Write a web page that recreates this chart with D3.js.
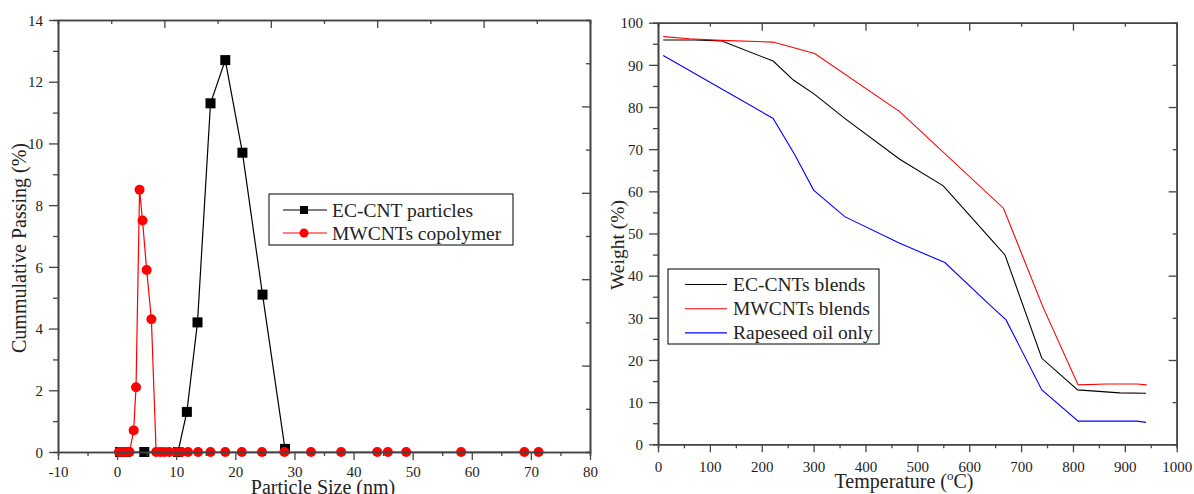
<!DOCTYPE html>
<html>
<head>
<meta charset="utf-8">
<script src="https://cdn.jsdelivr.net/npm/d3@7"></script>
<style>
  body { margin: 0; background: #fff; }
  svg { display: block; font-family: "Liberation Serif", "Times New Roman", serif; }
</style>
</head>
<body>
<svg id="vis" width="1194" height="494"></svg>
<script>
// left panel: particle size distribution
var ecSize = [0.5, 1.5, 4.6, 10.3, 11.8, 13.6, 15.8, 18.3, 21.2, 24.6, 28.4];
var ecPass = [0, 0, 0, 0, 1.3, 4.2, 11.3, 12.7, 9.7, 5.1, 0.1];
var mwSize = [0.3, 0.9, 1.5, 2.1, 2.8, 3.2, 3.8, 4.3, 5.0, 5.8, 6.6, 7.3, 8.0, 8.8, 10.0, 10.9, 12.0, 13.7,
              15.8, 18.3, 21.1, 24.5, 28.3, 32.8, 37.9, 44.0, 45.8, 48.9, 58.2, 68.9, 71.3];
var mwPass = [0, 0, 0, 0, 0.7, 2.1, 8.5, 7.5, 5.9, 4.3, 0, 0, 0, 0, 0, 0, 0, 0,
              0, 0, 0, 0, 0, 0, 0, 0, 0, 0, 0, 0, 0];
var sizeTicks = [-10, 0, 10, 20, 30, 40, 50, 60, 70, 80];
var passTicks = [0, 2, 4, 6, 8, 10, 12, 14];

// right panel: TGA curves
var ecTemp = [10, 70, 122, 222, 261, 302, 360, 466, 550, 643, 669, 740, 809, 890, 941];
var ecWeight = [95.9, 95.9, 95.7, 90.9, 86.4, 83.0, 77.3, 67.6, 61.3, 48.5, 44.9, 20.4, 12.9, 12.2, 12.1];
var mwTemp = [10, 60, 122, 222, 302, 466, 666, 742, 810, 865, 923, 942];
var mwWeight = [96.7, 96.2, 95.8, 95.4, 92.7, 78.9, 56.0, 32.6, 14.1, 14.3, 14.3, 14.1];
var rsTemp = [10, 222, 264, 300, 360, 466, 553, 640, 671, 740, 810, 923, 941];
var rsWeight = [92.2, 77.3, 68.6, 60.3, 54.0, 47.7, 43.1, 33.0, 29.5, 12.9, 5.5, 5.5, 5.2];
var tempTicks = [0, 100, 200, 300, 400, 500, 600, 700, 800, 900, 1000];
var weightTicks = [0, 10, 20, 30, 40, 50, 60, 70, 80, 90, 100];

var svg = d3.select('#vis');
svg.append('rect').attr('width', 1194).attr('height', 494).attr('fill', '#fff');

var serif = '"Liberation Serif", "Times New Roman", serif';
var frameColor = '#444';
var labelColor = '#222';

function zip(xs, ys) {
  return xs.map(function (d, i) { return { x: d, y: ys[i] }; });
}

function plain(d) { return String(d); }

function styleAxis(sel) {
  sel.attr('font-family', serif).attr('font-size', 15);
  sel.selectAll('path').attr('stroke', frameColor).attr('stroke-width', 1.6);
  sel.selectAll('line').attr('stroke', frameColor).attr('stroke-width', 1.3);
  sel.selectAll('text')
    .style('font-family', serif)
    .style('font-size', '15px')
    .style('fill', labelColor);
  return sel;
}

// draws the four sided Origin style frame
function drawFrame(g, x, y, xMinor, yMinor, labelDrop) {
  var x0 = x.range()[0], x1 = x.range()[1];
  var y0 = y.range()[0], y1 = y.range()[1];
  var xTop = d3.scaleLinear().domain([0, 10]).range(x.range());
  var yRight = d3.scaleLinear().domain([0, 10]).range(y.range());

  // minor ticks
  styleAxis(g.append('g').attr('transform', 'translate(0,' + y0 + ')')
    .call(d3.axisBottom(x).tickValues(xMinor).tickSize(4).tickFormat('')));
  styleAxis(g.append('g').attr('transform', 'translate(' + x0 + ',0)')
    .call(d3.axisLeft(y).tickValues(yMinor).tickSize(5).tickFormat('')));
  styleAxis(g.append('g').attr('transform', 'translate(0,' + y1 + ')')
    .call(d3.axisTop(xTop).tickValues([1, 3, 5, 7, 9]).tickSize(-4).tickFormat('')));
  styleAxis(g.append('g').attr('transform', 'translate(' + x1 + ',0)')
    .call(d3.axisRight(yRight).tickValues([1, 3, 5, 7, 9]).tickSize(-4).tickFormat('')));

  // major ticks + labels
  var bottom = styleAxis(g.append('g').attr('transform', 'translate(0,' + y0 + ')')
    .call(d3.axisBottom(x).tickValues(x.ticksList).tickSize(8).tickSizeOuter(0).tickFormat(plain)));
  bottom.selectAll('text').attr('y', labelDrop).attr('dy', 0);

  var left = styleAxis(g.append('g').attr('transform', 'translate(' + x0 + ',0)')
    .call(d3.axisLeft(y).tickValues(y.ticksList).tickSize(9).tickSizeOuter(0).tickFormat(plain)));
  left.selectAll('text').attr('x', -15).attr('dy', '0.35em');

  styleAxis(g.append('g').attr('transform', 'translate(0,' + y1 + ')')
    .call(d3.axisTop(xTop).tickValues([2, 4, 6, 8]).tickSize(-8).tickSizeOuter(0).tickFormat('')));
  styleAxis(g.append('g').attr('transform', 'translate(' + x1 + ',0)')
    .call(d3.axisRight(yRight).tickValues([2, 4, 6, 8]).tickSize(-8).tickSizeOuter(0).tickFormat('')));
}

// ---------- left panel ----------
var xL = d3.scaleLinear().domain([-10, 80]).range([58, 590]);
var yL = d3.scaleLinear().domain([0, 14]).range([452, 20]);
xL.ticksList = sizeTicks;
yL.ticksList = passTicks;

var gL = svg.append('g');
var lineL = d3.line().x(function (d) { return xL(d.x); }).y(function (d) { return yL(d.y); });

var ecData = zip(ecSize, ecPass);
var mwData = zip(mwSize, mwPass);

gL.append('path').datum(ecData).attr('d', lineL)
  .attr('fill', 'none').attr('stroke', '#000').attr('stroke-width', 1.2);
gL.selectAll('.sq').data(ecData).enter().append('rect')
  .attr('x', function (d) { return xL(d.x) - 5; })
  .attr('y', function (d) { return yL(d.y) - 5; })
  .attr('width', 10).attr('height', 10).attr('fill', '#000');

gL.append('path').datum(mwData).attr('d', lineL)
  .attr('fill', 'none').attr('stroke', '#f00').attr('stroke-width', 1.2);
gL.selectAll('.dot').data(mwData).enter().append('circle')
  .attr('cx', function (d) { return xL(d.x); })
  .attr('cy', function (d) { return yL(d.y); })
  .attr('r', 5).attr('fill', '#f00');

drawFrame(gL, xL, yL, d3.range(-5, 80, 10), d3.range(1, 14, 2), 25);

gL.append('text')
  .attr('x', 323).attr('y', 494)
  .attr('text-anchor', 'middle').style('font-size', '20px').attr('fill', labelColor)
  .text('Particle Size (nm)');
gL.append('text')
  .attr('transform', 'translate(26,248) rotate(-90)')
  .attr('text-anchor', 'middle').style('font-size', '20px').attr('fill', labelColor)
  .text('Cummulative Passing (%)');

// legend
var legL = gL.append('g');
legL.append('rect').attr('x', 269).attr('y', 194).attr('width', 244).attr('height', 51)
  .attr('fill', '#fff').attr('stroke', '#000').attr('stroke-width', 1);
var legItemsL = [
  { name: 'EC-CNT particles', color: '#000', shape: 'square' },
  { name: 'MWCNTs copolymer', color: '#f00', shape: 'circle' }
];
legItemsL.forEach(function (d, i) {
  var cy = 210 + i * 23;
  legL.append('line').attr('x1', 283).attr('x2', 327).attr('y1', cy).attr('y2', cy)
    .attr('stroke', d.color).attr('stroke-width', 1.2);
  if (d.shape === 'square') {
    legL.append('rect').attr('x', 300).attr('y', cy - 4).attr('width', 8).attr('height', 8).attr('fill', d.color);
  } else {
    legL.append('circle').attr('cx', 304).attr('cy', cy).attr('r', 4.5).attr('fill', d.color);
  }
  legL.append('text').attr('x', 332).attr('y', cy + 6.5)
    .style('font-size', '19.5px').attr('fill', labelColor).text(d.name);
});

// ---------- right panel ----------
var xR = d3.scaleLinear().domain([0, 1000]).range([658, 1176.7]);
var yR = d3.scaleLinear().domain([0, 100]).range([444.3, 22.7]);
xR.ticksList = tempTicks;
yR.ticksList = weightTicks;

var gR = svg.append('g');
var lineR = d3.line().x(function (d) { return xR(d.x); }).y(function (d) { return yR(d.y); });

var seriesR = [
  { name: 'EC-CNTs blends', color: '#000', data: zip(ecTemp, ecWeight) },
  { name: 'MWCNTs blends', color: '#f00', data: zip(mwTemp, mwWeight) },
  { name: 'Rapeseed oil only', color: '#00f', data: zip(rsTemp, rsWeight) }
];

seriesR.forEach(function (s) {
  gR.append('path').datum(s.data).attr('d', lineR)
    .attr('fill', 'none').attr('stroke', s.color).attr('stroke-width', 1.1);
});

drawFrame(gR, xR, yR, d3.range(50, 1000, 100), d3.range(5, 100, 10), 27.5);

var tTitle = gR.append('text')
  .attr('x', 904).attr('y', 488)
  .attr('text-anchor', 'middle').style('font-size', '20px').attr('fill', labelColor);
tTitle.append('tspan').text('Temperature (');
tTitle.append('tspan').style('font-size', '13px').attr('dy', -8).text('o');
tTitle.append('tspan').attr('dy', 8).text('C)');

gR.append('text')
  .attr('transform', 'translate(624,245) rotate(-90)')
  .attr('text-anchor', 'middle').style('font-size', '19.5px').attr('fill', labelColor)
  .text('Weight (%)');

var legR = gR.append('g');
legR.append('rect').attr('x', 668).attr('y', 269).attr('width', 211).attr('height', 75)
  .attr('fill', '#fff').attr('stroke', '#000').attr('stroke-width', 1);
seriesR.forEach(function (s, i) {
  var cy = 284.5 + i * 24.2;
  legR.append('line').attr('x1', 685).attr('x2', 727).attr('y1', cy).attr('y2', cy)
    .attr('stroke', s.color).attr('stroke-width', 1.1);
  legR.append('text').attr('x', 733).attr('y', cy + 6.5)
    .style('font-size', '19.5px').attr('fill', labelColor).text(s.name);
});
</script>
</body>
</html>
